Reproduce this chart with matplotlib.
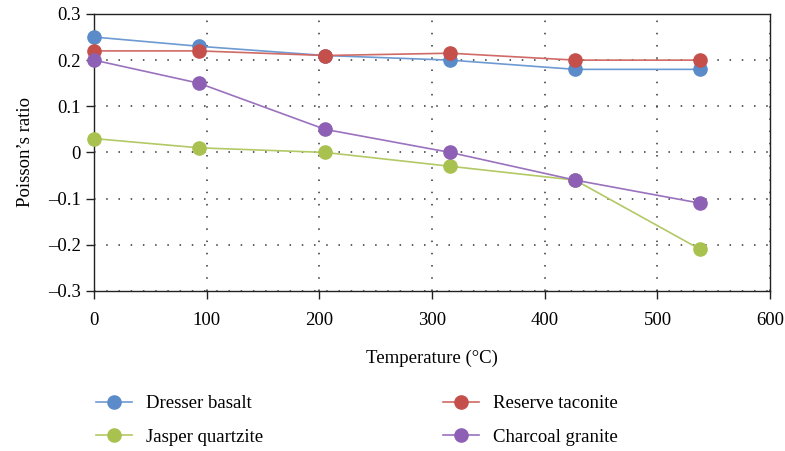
import matplotlib
matplotlib.use('Agg')
import matplotlib.pyplot as plt
from matplotlib.ticker import FuncFormatter

plt.rcParams['font.family'] = ['Liberation Serif', 'DejaVu Serif']

# temperatures (°C) and Poisson's ratio per rock
temps = [0, 93, 205, 316, 427, 538]
dresser_basalt = [0.25, 0.23, 0.21, 0.20, 0.18, 0.18]
reserve_taconite = [0.22, 0.22, 0.21, 0.215, 0.20, 0.20]
jasper_quartzite = [0.03, 0.01, 0.0, -0.03, -0.06, -0.21]
charcoal_granite = [0.20, 0.15, 0.05, 0.0, -0.06, -0.11]

series = [
    ("Dresser basalt", dresser_basalt, '#5B8BC9', '#6E9AD3'),
    ("Reserve taconite", reserve_taconite, '#C5504B', '#D06A66'),
    ("Jasper quartzite", jasper_quartzite, '#A9C24F', '#B2C965'),
    ("Charcoal granite", charcoal_granite, '#8E60B5', '#9A72BE'),
]

fig = plt.figure(figsize=(7.85, 4.51), dpi=100)
ax = fig.add_axes([0.12, 0.355, 0.861, 0.614])

handles = {}
for name, vals, mc, lc in series:
    h, = ax.plot(temps, vals, color=lc, lw=1.2, marker='o', markersize=9.5,
                 markerfacecolor=mc, markeredgecolor=mc, label=name, zorder=3,
                 clip_on=False)
    handles[name] = h

ax.set_xlim(0, 600)
ax.set_ylim(-0.3, 0.3)
ax.set_xticks(range(0, 601, 100))
ax.set_yticks([-0.3, -0.2, -0.1, 0, 0.1, 0.2, 0.3])


def yfmt(v, pos):
    if abs(v) < 1e-9:
        return '0'
    s = '%.1f' % abs(v)
    return ('\u2013' + s) if v < 0 else s


ax.yaxis.set_major_formatter(FuncFormatter(yfmt))
ax.grid(True, linestyle=(0, (1, 7)), color='#333333', lw=1.1)
for sp in ax.spines.values():
    sp.set_color('#222222')
    sp.set_linewidth(1.0)
ax.tick_params(labelsize=13.5, length=6, width=1.0, color='#222222', direction='out')
ax.tick_params(axis='x', pad=9)

ax.set_xlabel("Temperature (°C)", fontsize=13.5, labelpad=15)
ax.set_ylabel("Poisson\u2019s ratio", fontsize=13.5, labelpad=10)

order = ["Dresser basalt", "Jasper quartzite", "Reserve taconite", "Charcoal granite"]
fig.legend([handles[n] for n in order], order, ncol=2, frameon=False,
           loc='upper left', bbox_to_anchor=(0.113, 0.14), fontsize=13.5,
           handlelength=1.9, columnspacing=9.6, labelspacing=0.85,
           handletextpad=0.75, borderaxespad=0)

plt.savefig('out.png', dpi=100)
plt.close()
